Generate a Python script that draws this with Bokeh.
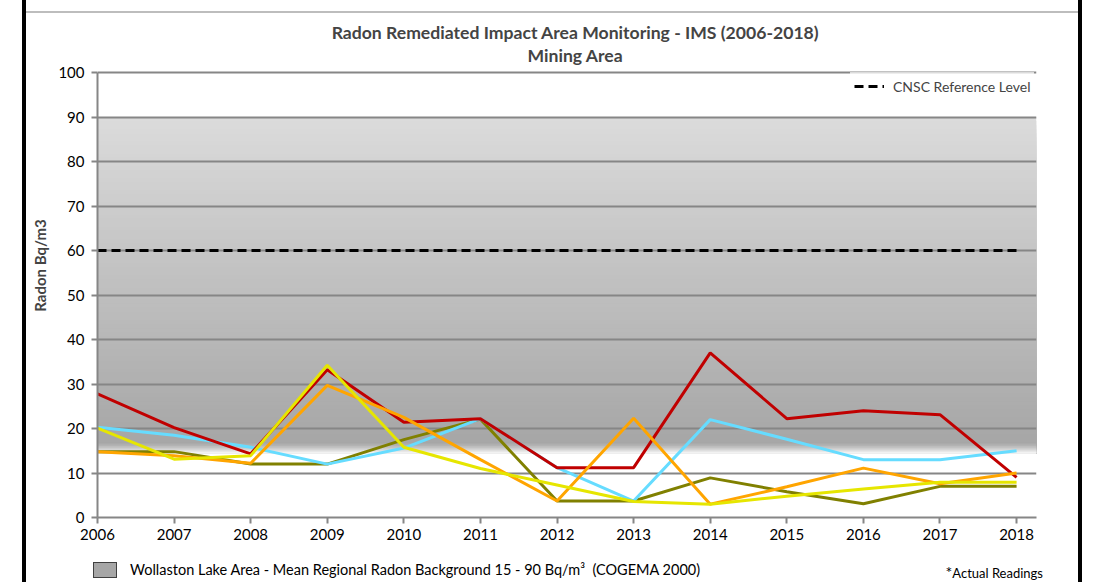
from bokeh.plotting import figure
from bokeh.models import Legend, LegendItem, Range1d, FixedTicker, Div, Label
from bokeh.layouts import row, column
from bokeh.embed import file_html
from bokeh.resources import INLINE

# ---- data ----
years = list(range(2006, 2019))
red = [27.8, 20.2, 14.3, 33.2, 21.4, 22.2, 11.2, 11.2, 37.0, 22.2, 24.0, 23.1, 9.0]
orange = [14.8, 13.9, 12.2, 29.7, 22.5, 13.0, 3.7, 22.3, 3.0, 6.9, 11.1, 7.6, 10.0]
yellow = [20.1, 13.1, 13.9, 34.2, 15.8, 11.0, 7.3, 3.6, 3.0, 4.8, 6.4, 7.9, 7.9]
olive = [14.8, 14.8, 12.0, 12.0, 17.5, 22.1, 3.7, 3.7, 8.9, 5.8, 3.1, 7.0, 7.0]
cyan = [20.3, 18.5, 15.8, 12.0, 15.6, 22.2, 11.2, 3.7, 22.0, 17.6, 13.0, 13.0, 15.0]
cnsc = [60] * 13
background_range = (15, 90)
y_ticks = list(range(0, 101, 10))
title_lines = ["Radon Remediated Impact Area Monitoring - IMS (2006-2018)", "Mining Area"]

FONT = "Lato"
X_END = 2018.26
Y_TOP = 113.26   # headroom above 100 holds the two title lines

p = figure(width=1052, height=540, output_backend="svg", toolbar_location=None,
           x_range=Range1d(2006, X_END), y_range=Range1d(0, Y_TOP),
           min_border_left=71, min_border_right=42, min_border_top=0, min_border_bottom=36,
           background_fill_color="white", border_fill_color="white", margin=0)
p.outline_line_color = None

# background gradient band (regional background range)
lo, hi = background_range
mid = lo + 2.0
bottom_end = lo - 0.6
levels, cols = [], []
n1 = 80
for i in range(n1):
    levels.append(hi - (hi - mid) * i / n1)
    c = int(round(219 - (219 - 166) * i / n1))
    cols.append("#%02x%02x%02x" % (c, c, c))
n2 = 14
for i in range(n2):
    levels.append(mid - (mid - bottom_end) * i / n2)
    c = int(round(166 + (255 - 166) * (i / n2) ** 1.4))
    cols.append("#%02x%02x%02x" % (c, c, c))
p.quad(left=2006, right=X_END, top=levels, bottom=bottom_end, fill_color=cols,
       line_alpha=0, level="image")

# series
p.line(years, olive, line_color="#808000", line_width=3)
p.line(years, cyan, line_color="#66dcff", line_width=3)
p.line(years, red, line_color="#c00000", line_width=3)
p.line(years, orange, line_color="#ffa500", line_width=3)
p.line(years, yellow, line_color="#e6e600", line_width=3)
ref = p.line(years, cnsc, line_color="black", line_width=3, line_dash="9 5")

# axes
for ax in (p.xaxis[0], p.yaxis[0]):
    ax.axis_line_color = "#868686"
    ax.axis_line_width = 2
    ax.major_tick_line_color = "#868686"
    ax.major_tick_line_width = 2
    ax.major_tick_in = 0
    ax.major_tick_out = 6
    ax.minor_tick_line_color = None
    ax.major_label_text_font = FONT
    ax.major_label_text_font_size = "15px"
    ax.major_label_text_color = "black"
p.xaxis.ticker = FixedTicker(ticks=years)
p.yaxis.ticker = FixedTicker(ticks=y_ticks)
p.yaxis.bounds = (0, 100)
p.xaxis.major_label_standoff = 5
p.yaxis.major_label_standoff = 7
p.yaxis.axis_label = "Radon Bq/m3"
p.yaxis.axis_label_text_font = FONT
p.yaxis.axis_label_text_font_style = "bold"
p.yaxis.axis_label_text_font_size = "15px"
p.yaxis.axis_label_standoff = 6

p.xgrid.grid_line_color = None
p.ygrid.grid_line_color = "#868686"
p.ygrid.grid_line_width = 2
p.ygrid.bounds = (2006, X_END)

# legend (corner given in px from the frame's lower-left)
legend = Legend(items=[LegendItem(label="CNSC Reference Level", renderers=[ref])],
                location=(753, 417), label_text_font=FONT, label_text_font_size="14px",
                glyph_width=30, label_standoff=9, padding=4, margin=0, spacing=0,
                border_line_alpha=0, background_fill_alpha=0.7)
p.add_layout(legend)

# titles (inside the headroom above 100)
for txt, yy in zip(title_lines, (108.99, 103.82)):
    p.add_layout(Label(x=2012.24, y=yy, text=txt, text_font=FONT, text_font_size="17.6px",
                       text_font_style="bold", text_align="center", text_baseline="middle"))

# ---- bottom notes ----
notes = Div(width=1052, height=29, margin=0, text=(
    '<div style="position:relative;width:1052px;height:29px;font-family:Lato;color:black;">'
    '<div style="position:absolute;left:67px;top:9px;width:24px;height:16px;'
    'background:#a6a6a6;border:1px solid #404040;"></div>'
    '<div style="position:absolute;left:104px;top:8px;font-size:14.5px;line-height:18px;white-space:nowrap;">'
    'Wollaston Lake Area - Mean Regional Radon Background 15 - 90 Bq/m&sup3;&nbsp; (COGEMA 2000)</div>'
    '<div style="position:absolute;right:35px;top:10px;line-height:18px;white-space:nowrap;">'
    '<span style="font-size:16px;">*</span><span style="font-size:13px;">Actual Readings</span></div>'
    '</div>'))

def block(w, h, color):
    return Div(width=w, height=h, margin=0, text="",
               styles={"background-color": color})

middle = column(block(1052, 11, "white"), block(1052, 2, "#bdbdbd"), p, notes,
                spacing=0, margin=0)
layout = row(block(22, 582, "white"), block(4, 582, "black"), middle,
             block(4, 582, "black"), spacing=0, margin=0)

open("out.html", "w").write(file_html(layout, INLINE))
